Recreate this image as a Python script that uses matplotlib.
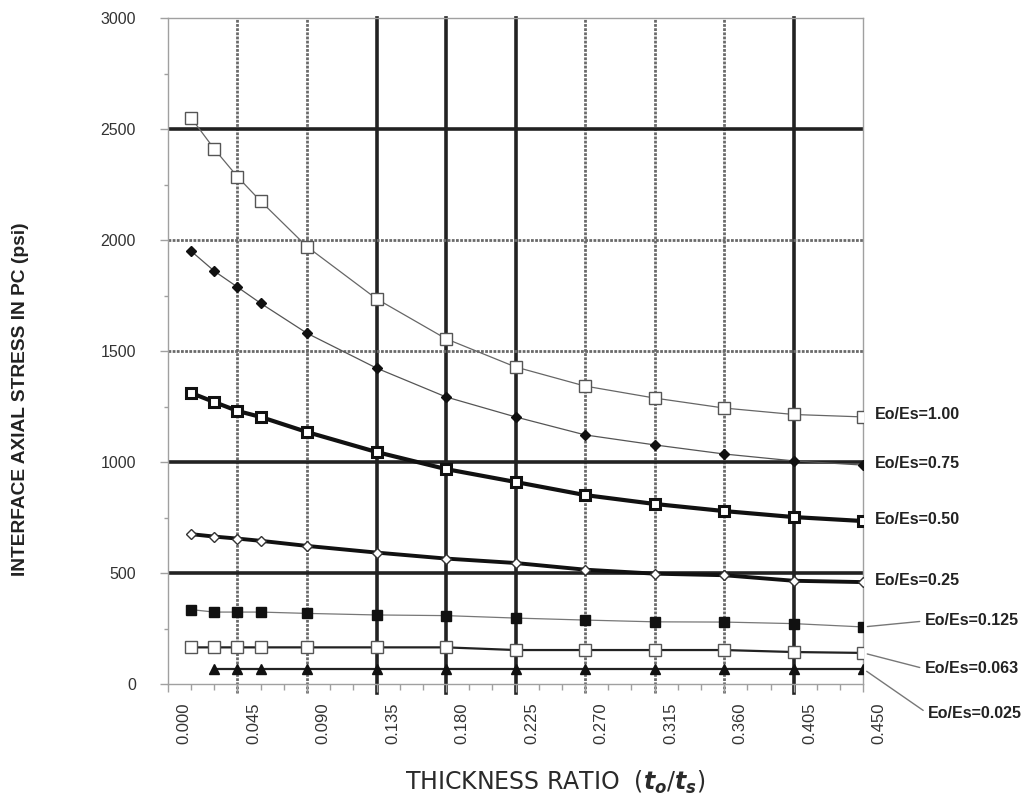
import matplotlib
matplotlib.use("Agg")
import matplotlib.pyplot as plt
from matplotlib.transforms import ScaledTranslation
from matplotlib.ticker import MultipleLocator

# thickness ratio t0/ts and interface axial stress (psi) per modulus ratio
x_ratio = [0.015, 0.030, 0.045, 0.060, 0.090, 0.135, 0.180, 0.225, 0.270, 0.315, 0.360, 0.405, 0.450]
x_ratio_025 = [0.030, 0.045, 0.060, 0.090, 0.135, 0.180, 0.225, 0.270, 0.315, 0.360, 0.405, 0.450]

s_100 = [2550, 2410, 2285, 2175, 1970, 1735, 1555, 1428, 1342, 1288, 1243, 1214, 1203]
s_075 = [1950, 1860, 1788, 1715, 1580, 1423, 1293, 1203, 1122, 1077, 1036, 1005, 986]
s_050 = [1311, 1270, 1230, 1203, 1135, 1045, 968, 910, 851, 811, 779, 752, 734]
s_025 = [675, 664, 655, 645, 622, 592, 565, 545, 515, 497, 490, 465, 459]
s_0125 = [335, 324, 324, 324, 318, 311, 308, 297, 288, 280, 279, 272, 257]
s_0063 = [165, 165, 165, 165, 165, 165, 165, 153, 153, 153, 153, 144, 140]
s_0025 = [68, 68, 68, 68, 68, 68, 68, 68, 68, 68, 68, 68]

labels = ["Eo/Es=1.00", "Eo/Es=0.75", "Eo/Es=0.50", "Eo/Es=0.25",
          "Eo/Es=0.125", "Eo/Es=0.063", "Eo/Es=0.025"]

thick_x = [0.135, 0.180, 0.225, 0.405]
dash_x = [0.045, 0.090, 0.270, 0.315, 0.360]
thick_y = [500, 1000, 2500]
dash_y = [1500, 2000]

plt.rcParams["font.family"] = ["Liberation Sans", "DejaVu Sans"]
plt.rcParams["mathtext.fontset"] = "custom"
plt.rcParams["mathtext.it"] = "DejaVu Sans:italic:bold"
plt.rcParams["mathtext.rm"] = "DejaVu Sans"

fig = plt.figure(figsize=(10.24, 8), dpi=100)
ax = fig.add_axes([0.164, 0.145, 0.679, 0.8325])

for xv in thick_x:
    ax.axvline(xv, ymin=-0.013, color="#222222", lw=2.6, zorder=1, clip_on=False)
for xv in dash_x:
    ax.axvline(xv, ymin=-0.013, color="#6a6a6a", lw=2.0, ls=(0, (1.0, 0.5)), zorder=1, clip_on=False)
for yv in thick_y:
    ax.axhline(yv, color="#222222", lw=2.6, zorder=1)
for yv in dash_y:
    ax.axhline(yv, color="#6a6a6a", lw=2.0, ls=(0, (1.0, 0.5)), zorder=1)

ax.plot(x_ratio, s_100, color="#666666", lw=0.9, marker="s", ms=8, mfc="white", mec="#555555", mew=1.0, zorder=3)
ax.plot(x_ratio, s_075, color="#555555", lw=0.9, marker="D", ms=5.5, mfc="#111111", mec="#111111", zorder=3)
ax.plot(x_ratio, s_050, color="#111111", lw=3.0, marker="s", ms=7.5, mfc="white", mec="#111111", mew=2.2, zorder=3)
ax.plot(x_ratio, s_025, color="#111111", lw=2.8, marker="D", ms=5.5, mfc="white", mec="#333333", mew=1.0, zorder=3)
ax.plot(x_ratio, s_0125, color="#777777", lw=0.9, marker="s", ms=7.5, mfc="#111111", mec="#111111", zorder=3)
ax.plot(x_ratio, s_0063, color="#222222", lw=1.6, marker="s", ms=8.5, mfc="white", mec="#555555", mew=1.0, zorder=3)
ax.plot(x_ratio_025, s_0025, color="#222222", lw=1.6, marker="^", ms=6.5, mfc="#111111", mec="#111111", zorder=3)

ax.set_xlim(0, 0.45)
ax.set_ylim(0, 3000)
ax.xaxis.set_minor_locator(MultipleLocator(0.015))
ax.yaxis.set_major_locator(MultipleLocator(500))
ax.yaxis.set_minor_locator(MultipleLocator(250))
ax.set_xticks([i * 0.045 for i in range(11)])
ax.set_xticklabels(["%.3f" % (i * 0.045) for i in range(11)], rotation=90)

for s in ax.spines.values():
    s.set_color("#a0a0a0")
    s.set_linewidth(1.0)

ax.tick_params(axis="both", which="both", direction="out", color="#a0a0a0", width=1.0)
ax.tick_params(axis="y", which="major", length=6, pad=17, labelsize=11.5, labelcolor="#333333")
ax.tick_params(axis="y", which="minor", length=3)
ax.tick_params(axis="x", which="major", length=6, pad=7, labelsize=12, labelcolor="#333333")
ax.tick_params(axis="x", which="minor", length=4)

shift = ScaledTranslation(16 / 100, 0, fig.dpi_scale_trans)
for lab in ax.get_xticklabels():
    lab.set_transform(lab.get_transform() + shift)

# series labels on the right
last = [s_100[-1], s_075[-1], s_050[-1], s_025[-1]]
for lab, yv in zip(labels[:4], last):
    ax.annotate(lab, xy=(0.45, yv), xytext=(12, 2), textcoords="offset pixels",
                ha="left", va="center", fontsize=11.5, fontweight="bold", color="#222222",
                annotation_clip=False)

leader = [(s_0125[-1], (62, 6)), (s_0063[-1], (62, -16)), (s_0025[-1], (65, -45))]
for lab, (yv, off) in zip(labels[4:], leader):
    ax.annotate(lab, xy=(0.45, yv), xytext=off, textcoords="offset pixels",
                ha="left", va="center", fontsize=11.5, fontweight="bold", color="#222222",
                annotation_clip=False,
                arrowprops=dict(arrowstyle="-", color="#777777", lw=1.0, relpos=(0, 0.5),
                                shrinkA=2, shrinkB=3))

fig.text(21 / 1024, 1 - 399 / 800, "INTERFACE AXIAL STRESS IN PC (psi)", rotation=90,
         ha="center", va="center", fontsize=13.8, fontweight="bold", color="#222222")
fig.text(555 / 1024, 1 - 782 / 800, r"THICKNESS RATIO  ($t_o/t_s$)",
         ha="center", va="center", fontsize=17, family="DejaVu Sans", color="#2a2a2a")

fig.savefig("out.png", dpi=100)
